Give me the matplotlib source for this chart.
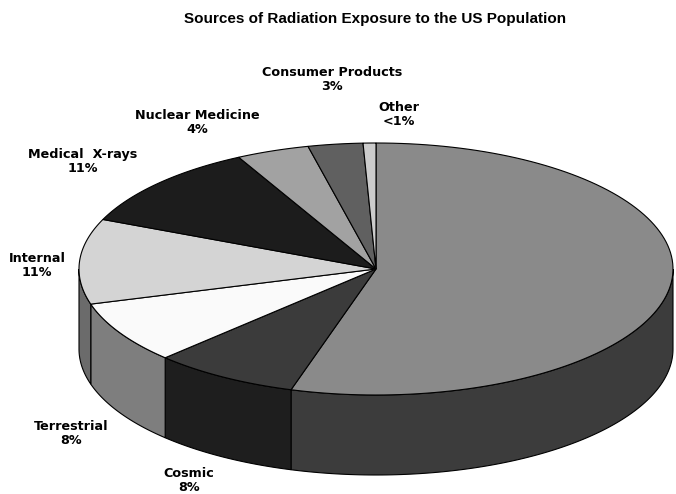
import numpy as np
import matplotlib.pyplot as plt
from matplotlib.patches import Polygon

# slices go clockwise from 12 o'clock
categories = ['Radon', 'Cosmic', 'Terrestrial', 'Internal', 'Medical  X-rays',
              'Nuclear Medicine', 'Consumer Products', 'Other']
values = [55, 8, 8, 11, 11, 4, 3, 0.7]
pct_labels = [None, '8%', '8%', '11%', '11%', '4%', '3%', '<1%']

top_colors = ['#8a8a8a', '#3b3b3b', '#fafafa', '#d4d4d4', '#1c1c1c',
              '#a2a2a2', '#606060', '#cccccc']
side_colors = ['#3c3c3c', '#1e1e1e', '#7e7e7e', '#6b6b6b', '#0e0e0e',
               '#515151', '#303030', '#666666']

# label anchor points (pixels, y down)
label_pos = [None, (189, 480), (71, 433), (37, 265), (83, 161),
             (197, 122), (332, 80), (399, 114)]

W, H = 676, 494
cx, cy = 376, 269
rx, ry = 297, 126
depth = 80

fig = plt.figure(figsize=(W / 100, H / 100), dpi=100)
ax = fig.add_axes([0, 0, 1, 1])
ax.set_xlim(0, W)
ax.set_ylim(H, 0)
ax.axis('off')


def arc(t0, t1, n=120, dy=0):
    t = np.radians(np.linspace(t0, t1, n))
    return np.column_stack([cx + rx * np.cos(t), cy - ry * np.sin(t) + dy])


def visible_part(lo, hi):
    for a, b in [(-180, 0), (180, 360)]:
        s, e = max(lo, a), min(hi, b)
        if e > s:
            return s, e
    return None


total = float(sum(values))
hi = 90.0
wedges = []
for v in values:
    span = 360.0 * v / total
    lo = hi - span
    lo_n = (lo + 180) % 360 - 180
    wedges.append((lo_n, lo_n + span))
    hi = lo

# outer side walls first
for (lo, hi), col in zip(wedges, side_colors):
    part = visible_part(lo, hi)
    if part is None:
        continue
    top = arc(part[0], part[1])
    bot = arc(part[1], part[0], dy=depth)
    ax.add_patch(Polygon(np.vstack([top, bot]), closed=True, facecolor=col,
                         edgecolor='black', linewidth=0.8))

# top faces
for (lo, hi), col in zip(wedges, top_colors):
    pts = np.vstack([[cx, cy], arc(lo, hi)])
    ax.add_patch(Polygon(pts, closed=True, facecolor=col,
                         edgecolor='black', linewidth=0.8))

for name, pct, pos in zip(categories, pct_labels, label_pos):
    if pct is None:
        continue
    ax.text(pos[0], pos[1], f'{name}\n{pct}', ha='center', va='center',
            fontsize=9.2, fontweight='bold', family='DejaVu Sans',
            linespacing=1.1)

ax.text(375, 19, 'Sources of Radiation Exposure to the US Population',
        ha='center', va='center', fontsize=11, fontweight='bold',
        family=['Liberation Sans Narrow', 'Liberation Sans'])

fig.savefig('out.png', dpi=100)
